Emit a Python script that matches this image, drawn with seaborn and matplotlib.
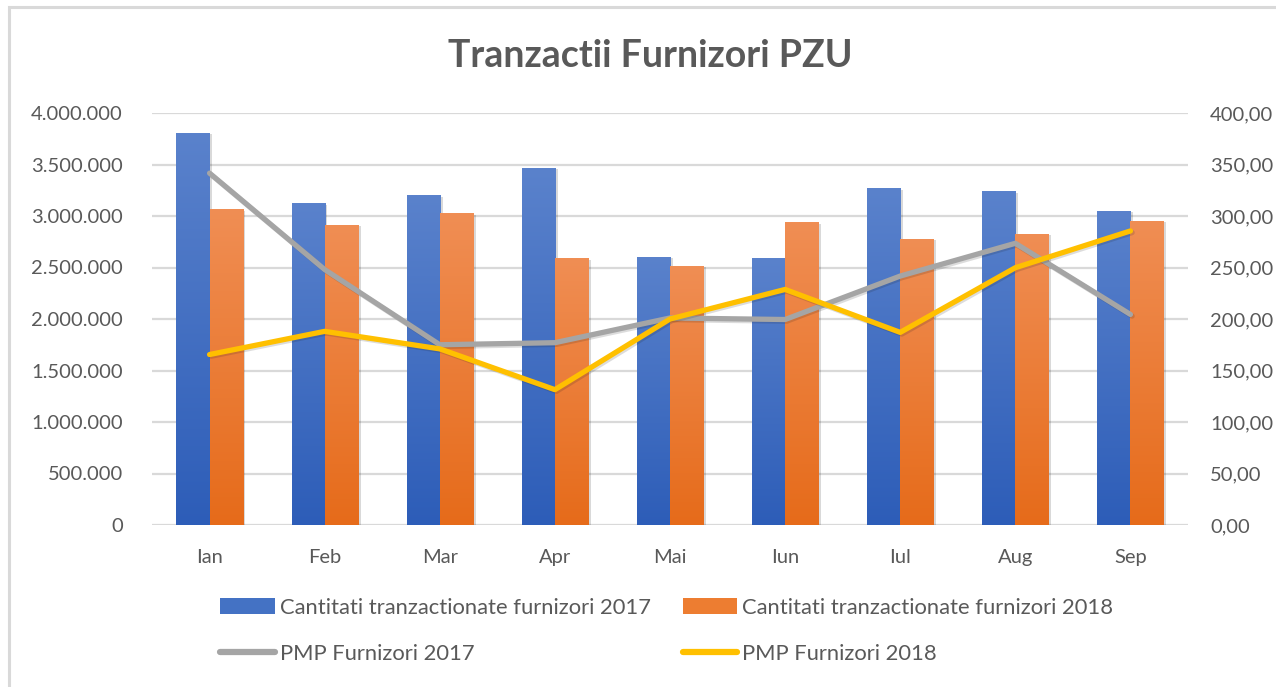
import numpy as np
import pandas as pd
import matplotlib
matplotlib.use("Agg")
import matplotlib.pyplot as plt
import matplotlib.patheffects as pe
from matplotlib.patches import Patch, Rectangle
from matplotlib.lines import Line2D
from matplotlib.colors import LinearSegmentedColormap
import matplotlib.ticker as mticker
import seaborn as sns

months = ["Ian", "Feb", "Mar", "Apr", "Mai", "Iun", "Iul", "Aug", "Sep"]
qty_2017 = [3805000, 3124000, 3200000, 3465000, 2605000, 2589000, 3267000, 3241000, 3053000]
qty_2018 = [3066000, 2917000, 3027000, 2589000, 2514000, 2939000, 2777000, 2829000, 2952000]
pmp_2017 = [341.6, 248.0, 175.0, 177.0, 201.0, 199.5, 241.7, 273.5, 204.4]
pmp_2018 = [165.5, 188.0, 171.0, 131.4, 200.0, 228.7, 187.0, 249.8, 285.5]

lbl_q17 = "Cantitati tranzactionate furnizori 2017"
lbl_q18 = "Cantitati tranzactionate furnizori 2018"
lbl_p17 = "PMP Furnizori 2017"
lbl_p18 = "PMP Furnizori 2018"
title = "Tranzactii Furnizori PZU"

sns.set_theme(style="white")
plt.rcParams["font.family"] = ["Lato", "DejaVu Sans"]

W, H = 1276, 687
fig = plt.figure(figsize=(W / 100, H / 100), dpi=100)
fig.patch.set_facecolor("white")

# chart area border (cropped on right/bottom)
fig.add_artist(Rectangle((9 / W, -0.1), 1.2, 1 - 7 / H + 0.1, transform=fig.transFigure,
                         fill=False, edgecolor="#D9D9D9", linewidth=2.2))

ax = fig.add_axes([152 / W, 1 - 525 / H, (1188 - 152) / W, (525 - 113) / H])

df = pd.DataFrame({
    "month": months * 2,
    "value": qty_2017 + qty_2018,
    "series": [lbl_q17] * len(months) + [lbl_q18] * len(months),
})
blue_mid, orange_mid = "#4472C4", "#ED7D31"
sns.barplot(data=df, x="month", y="value", hue="series", order=months,
            hue_order=[lbl_q17, lbl_q18], palette=[blue_mid, orange_mid],
            width=0.575, ax=ax, legend=False, saturation=1, errorbar=None)

cmaps = {
    blue_mid: LinearSegmentedColormap.from_list("b", ["#2D5DB8", "#5A82CC"]),
    orange_mid: LinearSegmentedColormap.from_list("o", ["#E66B1A", "#F08E54"]),
}
grad = np.linspace(0, 1, 256).reshape(-1, 1)
bars = [p for p in ax.patches if isinstance(p, Rectangle) and p.get_height() > 0]
for p in bars:
    fc = matplotlib.colors.to_hex(p.get_facecolor())
    cm = cmaps[blue_mid] if fc.lower() == blue_mid.lower() else cmaps[orange_mid]
    p.set_linewidth(0)
    p.set_path_effects([pe.SimplePatchShadow(offset=(2, -1), shadow_rgbFace="#000000", alpha=0.15),
                        pe.Normal()])
    x0, y0 = p.get_x(), p.get_y()
    w, h = p.get_width(), p.get_height()
    im = ax.imshow(grad, extent=(x0, x0 + w, y0, y0 + h), origin="lower", cmap=cm,
                   aspect="auto", zorder=p.get_zorder() + 0.1, interpolation="bilinear")
    im.set_clip_path(p)
ax.set_xlim(-0.5, len(months) - 0.5)
ax.set_ylim(0, 4000000)
ax.set_aspect("auto")

ax.yaxis.set_major_locator(mticker.MultipleLocator(500000))
ax.yaxis.set_major_formatter(mticker.FuncFormatter(lambda v, _: f"{int(v):,}".replace(",", ".")))
ax.grid(axis="y", color="#D9D9D9", linewidth=1.6)
ax.grid(axis="x", visible=False)
ax.set_axisbelow(True)
for s in ax.spines.values():
    s.set_visible(False)
ax.set_xlabel("")
ax.set_ylabel("")
tick_color = "#595959"
ax.tick_params(axis="y", length=0, pad=21, labelsize=14.5, labelcolor=tick_color)
ax.tick_params(axis="x", length=0, pad=17, labelsize=14.5, labelcolor=tick_color)

ax2 = ax.twinx()
ax2.set_ylim(0, 400)
xs = np.arange(len(months))
line_kw = dict(linewidth=3.8, solid_capstyle="round", solid_joinstyle="round",
               path_effects=[pe.SimpleLineShadow(offset=(1.2, -1.2), alpha=0.15), pe.Normal()])
sns.lineplot(x=xs, y=pmp_2017, ax=ax2, color="#A5A5A5", **line_kw)
sns.lineplot(x=xs, y=pmp_2018, ax=ax2, color="#FFC000", **line_kw)
ax2.set_xlim(-0.5, len(months) - 0.5)
ax2.yaxis.set_major_locator(mticker.MultipleLocator(50))
ax2.yaxis.set_major_formatter(mticker.FuncFormatter(lambda v, _: f"{v:.2f}".replace(".", ",")))
ax2.tick_params(axis="y", length=0, pad=16, labelsize=14.5, labelcolor=tick_color)
ax2.grid(False)
for s in ax2.spines.values():
    s.set_visible(False)

fig.text(650 / W, 1 - 56 / H, title, ha="center", va="center", fontsize=27,
         fontweight="bold", color="#595959")

handles = [
    Patch(facecolor="#4472C4", edgecolor="none", label=lbl_q17),
    Line2D([], [], color="#A5A5A5", linewidth=4.5, solid_capstyle="round", label=lbl_p17),
    Patch(facecolor="#ED7D31", edgecolor="none", label=lbl_q18),
    Line2D([], [], color="#FFC000", linewidth=4.5, solid_capstyle="round", label=lbl_p18),
]
leg = fig.legend(handles=handles, ncol=2, loc="center left",
                 bbox_to_anchor=(220 / W, 1 - 631 / H), frameon=False,
                 fontsize=15.8, handlelength=2.5, handleheight=0.7, handletextpad=0.22,
                 columnspacing=1.45, labelspacing=1.2, borderpad=0, borderaxespad=0)
for t in leg.get_texts():
    t.set_color(tick_color)

fig.savefig("out.png", dpi=100, facecolor="white")
